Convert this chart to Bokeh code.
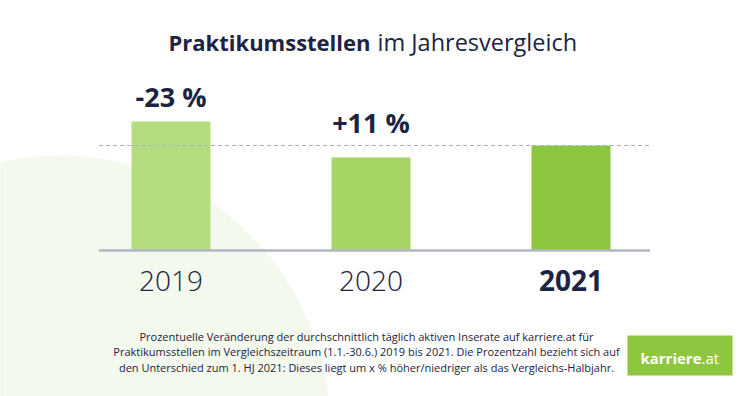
from bokeh.plotting import figure
from bokeh.models import ColumnDataSource, Range1d, Label, BoxAnnotation
from bokeh.core.properties import value
from bokeh.embed import file_html
from bokeh.resources import INLINE

# ---- data ----
years = ["2019", "2020", "2021"]
values = [129, 93, 105]          # relative level of active internship listings
changes = ["-23 %", "+11 %", ""]  # change of H1 2021 vs. that year
bar_colors = ["#b5dd80", "#a6d566", "#8cc63f"]
label_lift = [-25, -35, 0]        # text offset (px) of each change label above its bar
title_bold = "Praktikumsstellen"
title_rest = "im Jahresvergleich"
footnote = [
    "Prozentuelle Veränderung der durchschnittlich täglich aktiven Inserate auf karriere.at für",
    "Praktikumsstellen im Vergleichszeitraum (1.1.-30.6.) 2019 bis 2021. Die Prozentzahl bezieht sich auf",
    "den Unterschied zum 1. HJ 2021: Dieses liegt um x % höher/niedriger als das Vergleichs-Halbjahr.",
]

NAVY = "#1b2441"
FONT = "Open Sans"
W, H = 748, 396

xs = list(range(len(years)))
src = ColumnDataSource(dict(x=xs, year=years, val=values, chg=changes,
                            color=bar_colors, lift=label_lift))

p = figure(width=W, height=H, output_backend="svg", toolbar_location=None,
           x_range=Range1d(-0.8525, 2.8875), y_range=Range1d(-146, 250),
           min_border=0, min_border_left=0, min_border_right=0,
           min_border_top=0, min_border_bottom=0)
p.axis.visible = False
p.grid.visible = False
p.outline_line_color = None
p.background_fill_color = "white"
p.border_fill_color = "white"

# decorative background shape
p.ellipse(x=-0.5525, y=-180, width=540, height=550, width_units="screen",
          height_units="screen", fill_color="#f3f9ec", line_color=None)

# bars
p.vbar(x="x", top="val", bottom=0, width=0.395, fill_color="color",
       line_color=None, source=src)

# reference dashed line at 2021 level & baseline
x0, x1 = -0.36, len(years) - 1 + 0.395
p.segment(x0=x0, x1=x1, y0=values[-1], y1=values[-1], line_color="#a9b3bf",
          line_width=1, line_dash="4 3")
p.segment(x0=x0, x1=x1, y0=0, y1=0, line_color="#b0b6c2", line_width=2.5)

# change labels
p.text(x="x", y="val", text="chg", source=src, text_align="center",
       text_baseline="alphabetic", y_offset="lift", text_font=value(FONT),
       text_font_style="bold", text_font_size="27px", text_color=NAVY)

# year labels
for i, y in enumerate(years):
    last = i == len(years) - 1
    p.text(x=[xs[i]], y=[0], text=[y], text_align="center", text_baseline="alphabetic",
           y_offset=30, text_font=value(FONT if last else "Open Sans Light"),
           text_font_style="bold" if last else "normal",
           text_font_size="28px", text_color=NAVY)

# title
p.add_layout(Label(x=370, y=355, x_units="screen", y_units="screen", text=title_bold,
                   text_align="right", text_baseline="alphabetic", text_font=FONT,
                   text_font_style="bold", text_font_size="22px", text_color=NAVY))
p.add_layout(Label(x=377, y=355, x_units="screen", y_units="screen", text=title_rest,
                   text_align="left", text_baseline="alphabetic", text_font=FONT,
                   text_font_size="23.5px", text_color=NAVY))

# footnote
for k, line in enumerate(footnote):
    p.add_layout(Label(x=366, y=60 - 15.4 * k, x_units="screen", y_units="screen",
                       text=line, text_align="center", text_baseline="alphabetic",
                       text_font=FONT, text_font_size="11px", text_color=NAVY))

# logo
p.add_layout(BoxAnnotation(left=627, right=732, top=61, bottom=21,
                           left_units="screen", right_units="screen",
                           top_units="screen", bottom_units="screen",
                           fill_color="#8dc63f", fill_alpha=1, line_color=None))
p.add_layout(Label(x=701, y=39, x_units="screen", y_units="screen", text="karriere",
                   text_align="right", text_baseline="alphabetic", text_font=FONT,
                   text_font_style="bold", text_font_size="15px", text_color="white"))
p.add_layout(Label(x=701, y=39, x_units="screen", y_units="screen", text=".at",
                   text_align="left", text_baseline="alphabetic", text_font=FONT,
                   text_font_size="15px", text_color="white"))

open("out.html", "w").write(file_html(p, INLINE))
